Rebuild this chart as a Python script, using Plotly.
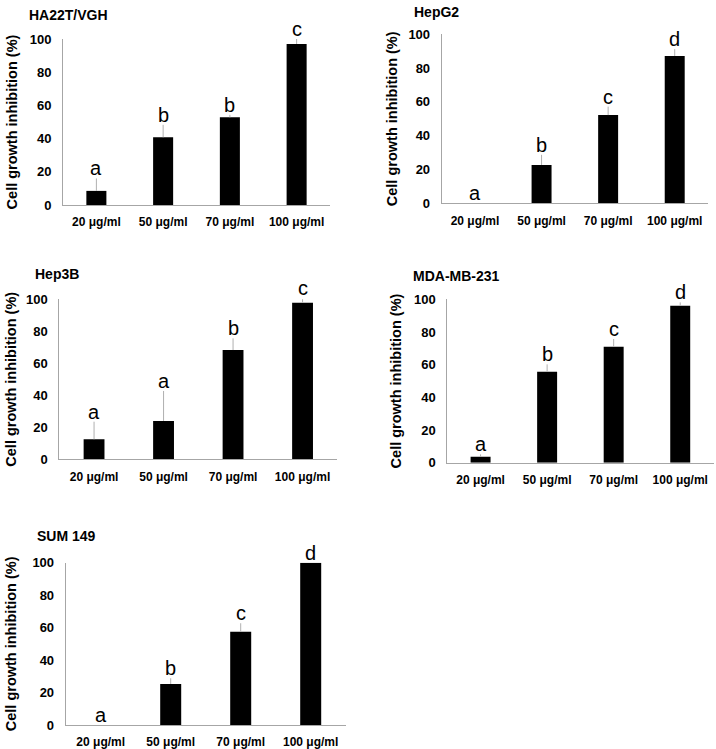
import plotly.graph_objects as go

categories = ["20 μg/ml", "50 μg/ml", "70 μg/ml", "100 μg/ml"]

panel_titles = ["HA22T/VGH", "HepG2", "Hep3B", "MDA-MB-231", "SUM 149"]

ha22t_mean = [8.5, 40.8, 52.8, 97.0]
ha22t_err = [7.5, 7.5, 1.5, 3.0]
ha22t_letters = ["a", "b", "b", "c"]

hepg2_mean = [0.0, 22.7, 52.2, 87.2]
hepg2_err = [0.0, 6.0, 5.0, 4.0]
hepg2_letters = ["a", "b", "c", "d"]

hep3b_mean = [12.5, 24.0, 68.3, 97.9]
hep3b_err = [11.0, 18.7, 7.3, 2.7]
hep3b_letters = ["a", "a", "b", "c"]

mda_mean = [3.7, 55.7, 71.0, 96.1]
mda_err = [1.4, 4.5, 4.7, 2.0]
mda_letters = ["a", "b", "c", "d"]

sum149_mean = [0.0, 25.3, 57.5, 100.0]
sum149_err = [0.0, 3.5, 5.2, 0.0]
sum149_letters = ["a", "b", "c", "d"]

y_title = "Cell growth inhibition (%)"
y_ticks = [0, 20, 40, 60, 80, 100]

W, H = 716, 749
FONT = "Arial, Liberation Sans, sans-serif"

# pixel boxes of plot areas: (left, right, top, bottom) and title position, y title standoff
panels = [
    dict(mean=ha22t_mean, err=ha22t_err, letters=ha22t_letters, box=(63, 330, 39, 205), title_xy=(27, 15), standoff=8),
    dict(mean=hepg2_mean, err=hepg2_err, letters=hepg2_letters, box=(441.7, 708, 34.3, 203.3), title_xy=(411.5, 12), standoff=7),
    dict(mean=hep3b_mean, err=hep3b_err, letters=hep3b_letters, box=(59.3, 337.3, 299.3, 459.3), title_xy=(33, 274), standoff=5),
    dict(mean=mda_mean, err=mda_err, letters=mda_letters, box=(447.3, 713.5, 299.3, 462.7), title_xy=(410.5, 275.5), standoff=8),
    dict(mean=sum149_mean, err=sum149_err, letters=sum149_letters, box=(65.7, 345.7, 562.7, 725), title_xy=(35, 536), standoff=12),
]

fig = go.Figure()
annotations = []

for i, p in enumerate(panels):
    n = "" if i == 0 else str(i + 1)
    xa, ya = "x" + n, "y" + n
    fig.add_trace(go.Bar(
        x=categories, y=p["mean"], xaxis=xa, yaxis=ya,
        marker=dict(color="black", line=dict(width=0)),
        width=0.3,
        error_y=dict(type="data", symmetric=False, array=p["err"],
                     arrayminus=[0] * len(p["err"]),
                     color="#b0b0b0", thickness=1, width=0),
        cliponaxis=False, showlegend=False, hoverinfo="skip",
    ))
    l, r, t, b = p["box"]
    xdom = [l / W, r / W]
    ydom = [1 - b / H, 1 - t / H]
    fig.update_layout(**{
        ("xaxis" + n): dict(
            domain=xdom, anchor=ya, type="category", range=[-0.5, 3.5],
            showline=True, linecolor="#a6a6a6", linewidth=1, automargin=False,
            showgrid=False, zeroline=False, ticks="", ticklabelstandoff=6,
            tickfont=dict(family=FONT, size=12, color="black", weight="bold"),
        ),
        ("yaxis" + n): dict(
            domain=ydom, anchor=xa, range=[0, 100], tickvals=y_ticks,
            showline=True, linecolor="#a6a6a6", linewidth=1, automargin=False,
            showgrid=False, zeroline=False, ticks="", ticklabelstandoff=8,
            tickfont=dict(family=FONT, size=13, color="black", weight="bold"),
            title=dict(text=y_title, standoff=p["standoff"],
                       font=dict(family=FONT, size=14.5, color="black", weight="bold")),
        ),
    })
    tx, ty = p["title_xy"]
    annotations.append(dict(
        text=panel_titles[i], xref="paper", yref="paper",
        x=tx / W, y=1 - ty / H, xanchor="left", yanchor="middle",
        showarrow=False,
        font=dict(family=FONT, size=14, color="black", weight="bold"),
    ))
    for k, (m, e, lt) in enumerate(zip(p["mean"], p["err"], p["letters"])):
        annotations.append(dict(
            text=lt, xref=xa + " domain", yref=ya + " domain",
            x=(k + 0.5) / len(categories), y=(m + e) / 100.0,
            xanchor="center", yanchor="bottom", showarrow=False, yshift=-3,
            font=dict(family=FONT, size=20, color="black"),
        ))

fig.update_layout(
    width=W, height=H, margin=dict(l=0, r=0, t=0, b=0),
    paper_bgcolor="white", plot_bgcolor="white",
    annotations=annotations, bargap=0.7,
)

fig.write_html("out.html", config={"displayModeBar": False},
               post_script="document.body.style.margin='0';document.body.style.padding='0';")
